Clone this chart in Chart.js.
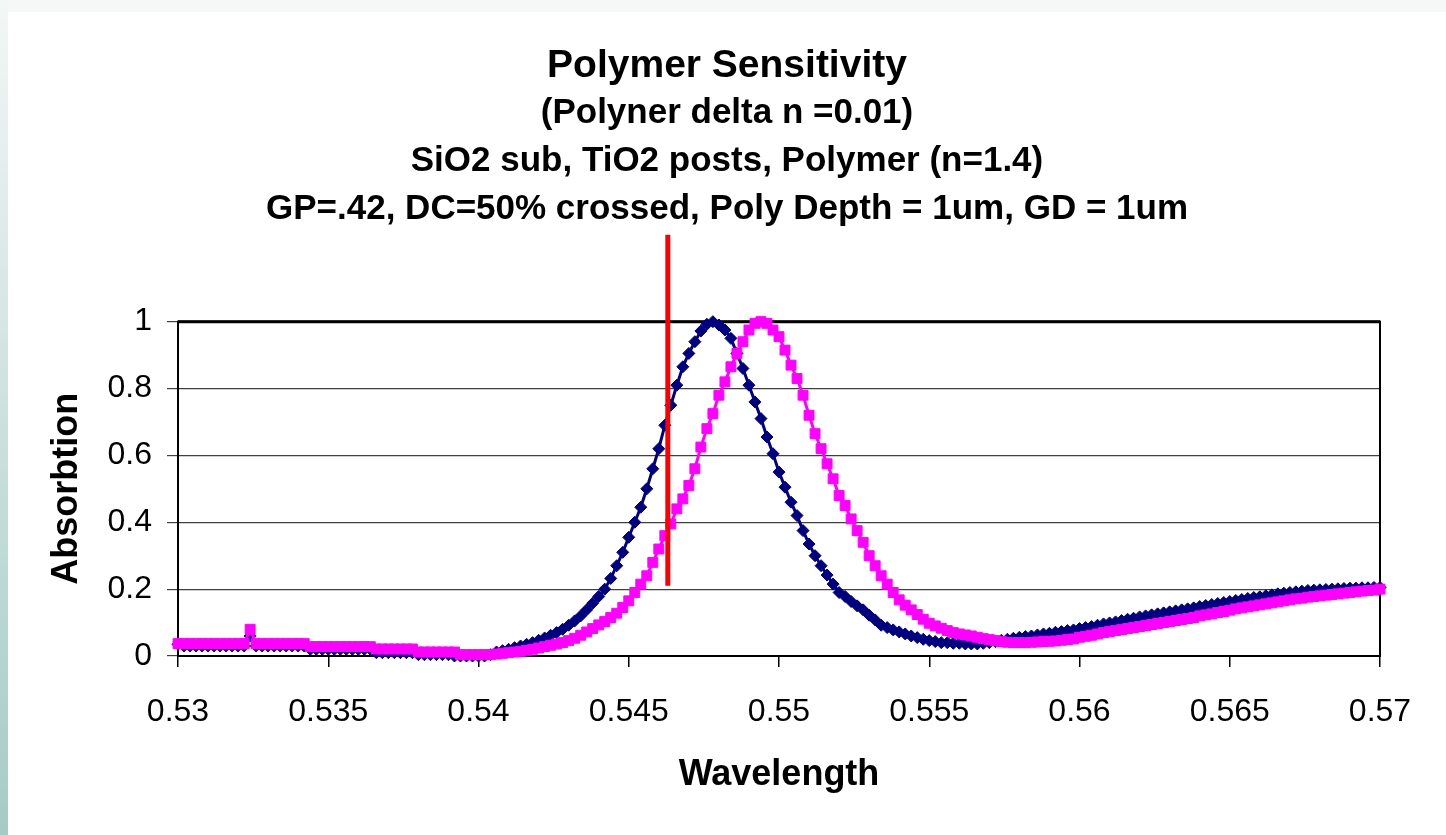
<!DOCTYPE html>
<html>
<head>
<meta charset="utf-8">
<script src="https://cdn.jsdelivr.net/npm/chart.js@4.4.0/dist/chart.umd.min.js"></script>
<style>
    body { margin: 0; background: #ffffff; }
    .faixaTopo { position: absolute; left: 0; top: 0; width: 1446px; height: 12px; background: #f6f8f8; }
    .faixaEsquerda { position: absolute; left: 0; top: 0; width: 8px; height: 835px; background: linear-gradient(#f3f7f6, #a5cbc5); }
    canvas#graficoPolimero { position: absolute; left: 0; top: 0; }
</style>
</head>
<body>
<div class="faixaTopo"></div>
<div class="faixaEsquerda"></div>
<canvas id="graficoPolimero" width="1446" height="835" style="width:1446px; height:835px"></canvas>
<script>
// wavelength grid (um)
var comprimentos = [
    0.5300, 0.5302, 0.5304, 0.5306, 0.5308, 0.5310, 0.5312, 0.5314, 0.5316, 0.5318,
    0.5320, 0.5322, 0.5324, 0.5326, 0.5328, 0.5330, 0.5332, 0.5334, 0.5336, 0.5338,
    0.5340, 0.5342, 0.5344, 0.5346, 0.5348, 0.5350, 0.5352, 0.5354, 0.5356, 0.5358,
    0.5360, 0.5362, 0.5364, 0.5366, 0.5368, 0.5370, 0.5372, 0.5374, 0.5376, 0.5378,
    0.5380, 0.5382, 0.5384, 0.5386, 0.5388, 0.5390, 0.5392, 0.5394, 0.5396, 0.5398,
    0.5400, 0.5402, 0.5404, 0.5406, 0.5408, 0.5410, 0.5412, 0.5414, 0.5416, 0.5418,
    0.5420, 0.5422, 0.5424, 0.5426, 0.5428, 0.5430, 0.5432, 0.5434, 0.5436, 0.5438,
    0.5440, 0.5442, 0.5444, 0.5446, 0.5448, 0.5450, 0.5452, 0.5454, 0.5456, 0.5458,
    0.5460, 0.5462, 0.5464, 0.5466, 0.5468, 0.5470, 0.5472, 0.5474, 0.5476, 0.5478,
    0.5480, 0.5482, 0.5484, 0.5486, 0.5488, 0.5490, 0.5492, 0.5494, 0.5496, 0.5498,
    0.5500, 0.5502, 0.5504, 0.5506, 0.5508, 0.5510, 0.5512, 0.5514, 0.5516, 0.5518,
    0.5520, 0.5522, 0.5524, 0.5526, 0.5528, 0.5530, 0.5532, 0.5534, 0.5536, 0.5538,
    0.5540, 0.5542, 0.5544, 0.5546, 0.5548, 0.5550, 0.5552, 0.5554, 0.5556, 0.5558,
    0.5560, 0.5562, 0.5564, 0.5566, 0.5568, 0.5570, 0.5572, 0.5574, 0.5576, 0.5578,
    0.5580, 0.5582, 0.5584, 0.5586, 0.5588, 0.5590, 0.5592, 0.5594, 0.5596, 0.5598,
    0.5600, 0.5602, 0.5604, 0.5606, 0.5608, 0.5610, 0.5612, 0.5614, 0.5616, 0.5618,
    0.5620, 0.5622, 0.5624, 0.5626, 0.5628, 0.5630, 0.5632, 0.5634, 0.5636, 0.5638,
    0.5640, 0.5642, 0.5644, 0.5646, 0.5648, 0.5650, 0.5652, 0.5654, 0.5656, 0.5658,
    0.5660, 0.5662, 0.5664, 0.5666, 0.5668, 0.5670, 0.5672, 0.5674, 0.5676, 0.5678,
    0.5680, 0.5682, 0.5684, 0.5686, 0.5688, 0.5690, 0.5692, 0.5694, 0.5696, 0.5698,
    0.5700
];

// navy series (diamonds)
var absorcaoAzul = [
    0.035, 0.03, 0.03, 0.03, 0.03, 0.03, 0.03, 0.03, 0.03, 0.03,
    0.03, 0.03, 0.06, 0.03, 0.03, 0.03, 0.03, 0.03, 0.03, 0.03,
    0.03, 0.03, 0.02, 0.02, 0.02, 0.02, 0.02, 0.02, 0.02, 0.02,
    0.02, 0.02, 0.02, 0.01, 0.01, 0.01, 0.01, 0.01, 0.01, 0.01,
    0.004, 0.004, 0.004, 0.004, 0.004, 0.004, 0, 0, 0, 0,
    0, 0, 0.004, 0.012, 0.016, 0.02, 0.025, 0.03, 0.035, 0.04,
    0.047, 0.054, 0.062, 0.07, 0.08, 0.092, 0.105, 0.12, 0.138, 0.158,
    0.178, 0.2, 0.232, 0.27, 0.31, 0.355, 0.4, 0.445, 0.5, 0.56,
    0.62, 0.69, 0.75, 0.81, 0.865, 0.905, 0.94, 0.972, 0.992, 1.0,
    0.99, 0.975, 0.95, 0.905, 0.86, 0.81, 0.76, 0.71, 0.655, 0.605,
    0.55, 0.505, 0.46, 0.42, 0.375, 0.335, 0.3, 0.27, 0.242, 0.215,
    0.19, 0.178, 0.163, 0.15, 0.138, 0.122, 0.108, 0.092, 0.085, 0.078,
    0.072, 0.066, 0.06, 0.055, 0.05, 0.046, 0.043, 0.04, 0.04, 0.038,
    0.038, 0.036, 0.036, 0.036, 0.038, 0.04, 0.043, 0.047, 0.05, 0.053,
    0.056, 0.058, 0.06, 0.063, 0.066, 0.068, 0.071, 0.073, 0.076, 0.078,
    0.082, 0.085, 0.088, 0.092, 0.096, 0.099, 0.102, 0.106, 0.11, 0.113,
    0.117, 0.12, 0.123, 0.126, 0.129, 0.132, 0.135, 0.138, 0.141, 0.144,
    0.148, 0.151, 0.154, 0.157, 0.16, 0.163, 0.166, 0.169, 0.172, 0.175,
    0.177, 0.18, 0.183, 0.186, 0.188, 0.19, 0.192, 0.194, 0.196, 0.197,
    0.198, 0.199, 0.2, 0.201, 0.202, 0.203, 0.203, 0.204, 0.204, 0.205,
    0.205
];

// magenta series (squares)
var absorcaoRosa = [
    0.037, 0.037, 0.037, 0.037, 0.037, 0.037, 0.037, 0.037, 0.037, 0.037,
    0.037, 0.037, 0.08, 0.037, 0.037, 0.037, 0.037, 0.037, 0.037, 0.037,
    0.037, 0.037, 0.028, 0.028, 0.028, 0.028, 0.028, 0.028, 0.028, 0.028,
    0.028, 0.028, 0.028, 0.021, 0.021, 0.021, 0.021, 0.021, 0.021, 0.021,
    0.012, 0.012, 0.012, 0.012, 0.012, 0.012, 0.012, 0.004, 0.004, 0.004,
    0.004, 0.004, 0.004, 0.006, 0.008, 0.01, 0.012, 0.014, 0.017, 0.02,
    0.024, 0.028, 0.032, 0.036, 0.04, 0.046, 0.053, 0.062, 0.072, 0.082,
    0.093, 0.103, 0.115, 0.128, 0.145, 0.165, 0.19, 0.215, 0.24, 0.28,
    0.32, 0.36, 0.395, 0.44, 0.47, 0.51, 0.56, 0.625, 0.68, 0.725,
    0.78, 0.82, 0.865, 0.905, 0.94, 0.975, 0.995, 1.0, 0.995, 0.975,
    0.955, 0.915, 0.87, 0.83, 0.78, 0.72, 0.665, 0.62, 0.575, 0.53,
    0.48, 0.45, 0.41, 0.375, 0.34, 0.3, 0.27, 0.24, 0.215, 0.19,
    0.168, 0.152, 0.138, 0.124, 0.11, 0.098, 0.09, 0.083, 0.076, 0.07,
    0.066, 0.063, 0.06, 0.056, 0.052, 0.049, 0.046, 0.043, 0.041, 0.04,
    0.04, 0.04, 0.041, 0.042, 0.043, 0.044, 0.045, 0.047, 0.049, 0.051,
    0.056, 0.059, 0.062, 0.066, 0.07, 0.073, 0.076, 0.079, 0.082, 0.085,
    0.088, 0.091, 0.094, 0.097, 0.1, 0.103, 0.106, 0.109, 0.112, 0.115,
    0.12, 0.123, 0.126, 0.13, 0.133, 0.137, 0.141, 0.144, 0.147, 0.15,
    0.153, 0.156, 0.159, 0.162, 0.165, 0.168, 0.171, 0.173, 0.176, 0.178,
    0.18, 0.182, 0.184, 0.186, 0.188, 0.19, 0.192, 0.194, 0.196, 0.197,
    0.2
];

// red marker line
var linhaVermelhaX = [0.5463, 0.5463];
var linhaVermelhaY = [0.21, 1.26];

var ticksX = [0.53, 0.535, 0.54, 0.545, 0.55, 0.555, 0.56, 0.565, 0.57];
var ticksY = [0, 0.2, 0.4, 0.6, 0.8, 1];

var titulo = "Polymer Sensitivity";
var subtitulo = [
    "(Polyner delta n =0.01)",
    "SiO2 sub, TiO2 posts, Polymer (n=1.4)",
    "GP=.42, DC=50% crossed, Poly Depth = 1um, GD = 1um"
];

var fonte = "'Liberation Sans', Arial, sans-serif";

function MontarPontos(xs, ys) {
    var pontos = [];
    var indice = 0;
    while (indice < xs.length) {
        pontos.push({ x: xs[indice], y: ys[indice] });
        indice++;
    }
    return pontos;
}

// black frame round the plot area
var moldura = {
    id: 'moldura',
    beforeDatasetsDraw: function (chart) {
        var a = chart.chartArea;
        var c = chart.ctx;
        c.save();
        c.strokeStyle = '#000000';
        c.lineWidth = 2;
        c.strokeRect(a.left, a.top, a.right - a.left, a.bottom - a.top);
        c.lineWidth = 3;
        c.beginPath();
        c.moveTo(a.left, a.top);
        c.lineTo(a.right, a.top);
        c.stroke();
        c.restore();
    }
};

var ctx = document.getElementById('graficoPolimero').getContext('2d');

var grafico = new Chart(ctx, {
    type: 'line',
    data: {
        datasets: [
            {
                label: "Marker",
                data: MontarPontos(linhaVermelhaX, linhaVermelhaY),
                borderColor: "#ff0000",
                borderWidth: 5,
                pointRadius: 0,
                clip: false
            },
            {
                label: "delta n",
                data: MontarPontos(comprimentos, absorcaoRosa),
                borderColor: "#ff00ff",
                backgroundColor: "#ff00ff",
                borderWidth: 3,
                pointStyle: 'rect',
                pointRadius: 7,
                pointBorderWidth: 1,
                clip: false
            },
            {
                label: "base",
                data: MontarPontos(comprimentos, absorcaoAzul),
                borderColor: "#000080",
                backgroundColor: "#000080",
                borderWidth: 3,
                pointStyle: 'rectRot',
                pointRadius: 6,
                pointBorderWidth: 1,
                clip: false
            }
        ]
    },
    options: {
        responsive: false,
        animation: false,
        layout: { padding: { left: 26, right: 18, top: 43, bottom: 38 } },
        plugins: {
            legend: { display: false },
            tooltip: { enabled: false },
            title: {
                display: true,
                text: titulo,
                color: '#000000',
                font: { family: fonte, size: 39, weight: 'bold', lineHeight: 1.2 },
                padding: { top: 0, bottom: 0 }
            },
            subtitle: {
                display: true,
                text: subtitulo,
                color: '#000000',
                font: { family: fonte, size: 35, weight: 'bold', lineHeight: 1.37 },
                padding: { top: 0, bottom: 88 }
            }
        },
        scales: {
            x: {
                type: 'linear',
                min: 0.53,
                max: 0.57,
                afterBuildTicks: function (escala) {
                    escala.ticks = ticksX.map(function (v) { return { value: v }; });
                },
                afterFit: function (escala) { escala.height = 141; },
                ticks: {
                    color: '#000000',
                    font: { family: fonte, size: 32 },
                    padding: 26,
                    maxRotation: 0,
                    autoSkip: false,
                    callback: function (v) { return String(Number(v.toFixed(4))); }
                },
                grid: { drawOnChartArea: false, drawTicks: true, tickLength: 11, color: '#000000', lineWidth: 1.5 },
                border: { display: true, color: '#000000', width: 2 },
                title: {
                    display: true,
                    text: "Wavelength",
                    color: '#000000',
                    font: { family: fonte, size: 36, weight: 'bold', lineHeight: 1.2 },
                    padding: { top: 0, bottom: 0 }
                }
            },
            y: {
                type: 'linear',
                min: 0,
                max: 1,
                afterBuildTicks: function (escala) {
                    escala.ticks = ticksY.map(function (v) { return { value: v }; });
                },
                afterFit: function (escala) { escala.width = 152; },
                ticks: {
                    color: '#000000',
                    font: { family: fonte, size: 32 },
                    padding: 15,
                    callback: function (v) { return String(Number(v.toFixed(2))); }
                },
                grid: { drawTicks: true, tickLength: 11, color: '#404040', lineWidth: 1.2 },
                border: { display: true, color: '#000000', width: 2 },
                title: {
                    display: true,
                    text: "Absorbtion",
                    color: '#000000',
                    font: { family: fonte, size: 36, weight: 'bold', lineHeight: 1.2 },
                    padding: { top: 19, bottom: 0 }
                }
            },
            // empty right-hand axis, only keeps room so the titles stay centred
            yDireita: {
                type: 'linear',
                position: 'right',
                min: 0,
                max: 1,
                afterFit: function (escala) { escala.width = 48; },
                ticks: { display: false },
                grid: { display: false },
                border: { display: false }
            }
        }
    },
    plugins: [moldura]
});
</script>
</body>
</html>
